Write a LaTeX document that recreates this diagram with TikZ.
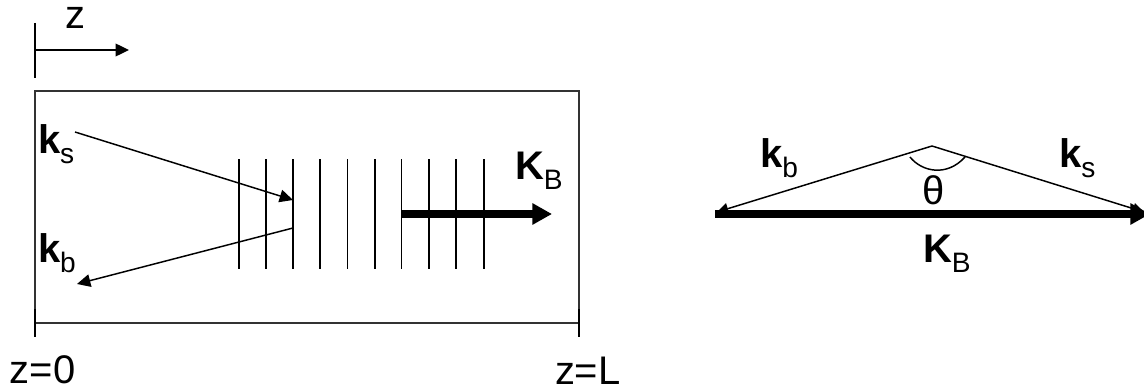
\documentclass[tikz,border=0pt]{standalone}
\usepackage{fontspec}
\setmainfont{Liberation Sans}
\usetikzlibrary{arrows.meta}
\newcommand{\wavevec}[2]{\textbf{#1}\raisebox{-7.5pt}{\fontsize{20}{20}\selectfont #2}}
\tikzset{
  label/.style={anchor=base west,inner sep=0pt,outer sep=0pt,font=\fontsize{28.4}{30}\selectfont},
  thinline/.style={line width=1.05pt},
  thinarrow/.style={line width=1.05pt,-{Triangle[length=9.5pt,width=9pt]}},
  thickarrow/.style={line width=5pt,-{Triangle[length=14pt,width=14.5pt]}}
}
\begin{document}
\begin{tikzpicture}[x=0.7112pt,y=-0.7112pt]
  \useasboundingbox (0,0) rectangle (1144,390);
  %
  % z axis
  \coordinate (axistop) at (35,23);
  \coordinate (axisbot) at (35,78);
  \coordinate (axisfrom) at (35,50);
  \coordinate (axisto) at (129,50);
  \draw[thinline] (axistop) -- (axisbot);
  \draw[thinarrow] (axisfrom) -- (axisto);
  \node[label] (zlabel) at (65,29) {z};
  %
  % Grating region
  \draw[thinline,black!80] (35,91) rectangle (579,323);
  \draw[thinline] (35,309) -- (35,337);
  \draw[thinline] (579,309) -- (579,337);
  \node[label] (zzero) at (10,383) {z=0};
  \node[label] (zend) at (555,384) {z=L};
  %
  % Fringes
  \foreach \x in {239,266,293,320,347.5,375,401.5,429,456,484}
    \draw[line width=1.2pt] (\x,159) -- (\x,269);
  %
  % Waves in the grating
  \coordinate (ksfrom) at (75,132);
  \coordinate (ksto) at (293,200);
  \coordinate (kbfrom) at (293,228);
  \coordinate (kbto) at (77,284);
  \coordinate (gratfrom) at (402,214);
  \coordinate (gratto) at (552,214);
  \draw[thinarrow] (ksfrom) -- (ksto);
  \draw[thinarrow] (kbfrom) -- (kbto);
  \draw[thickarrow] (gratfrom) -- (gratto);
  \node[label] (ksleft) at (38,153) {\wavevec{k}{s}};
  \node[label] (kbleft) at (38,262) {\wavevec{k}{b}};
  \node[label] (gratlabel) at (515,179) {\wavevec{K}{B}};
  %
  % Phase matching triangle
  \coordinate (apex) at (932,146);
  \coordinate (leftend) at (717,212);
  \coordinate (rightend) at (1144,212);
  \coordinate (barfrom) at (715,214);
  \coordinate (barto) at (1150,214);
  \draw[thinline,-{Triangle[length=8pt,width=8pt]}] (apex) -- (leftend);
  \draw[thinline,-{Triangle[length=8pt,width=8pt]}] (apex) -- (rightend);
  \draw[thickarrow] (barfrom) -- (barto);
  \draw[thinline] (910,157) .. controls (922,172) and (947,177) .. (965,157);
  \node[label] (kbright) at (760,167) {\wavevec{k}{b}};
  \node[label] (ksright) at (1059,167) {\wavevec{k}{s}};
  \node[label] (theta) at (922,204) {θ};
  \node[label] (barlabel) at (923,262) {\wavevec{K}{B}};
  %
\end{tikzpicture}
\end{document}
